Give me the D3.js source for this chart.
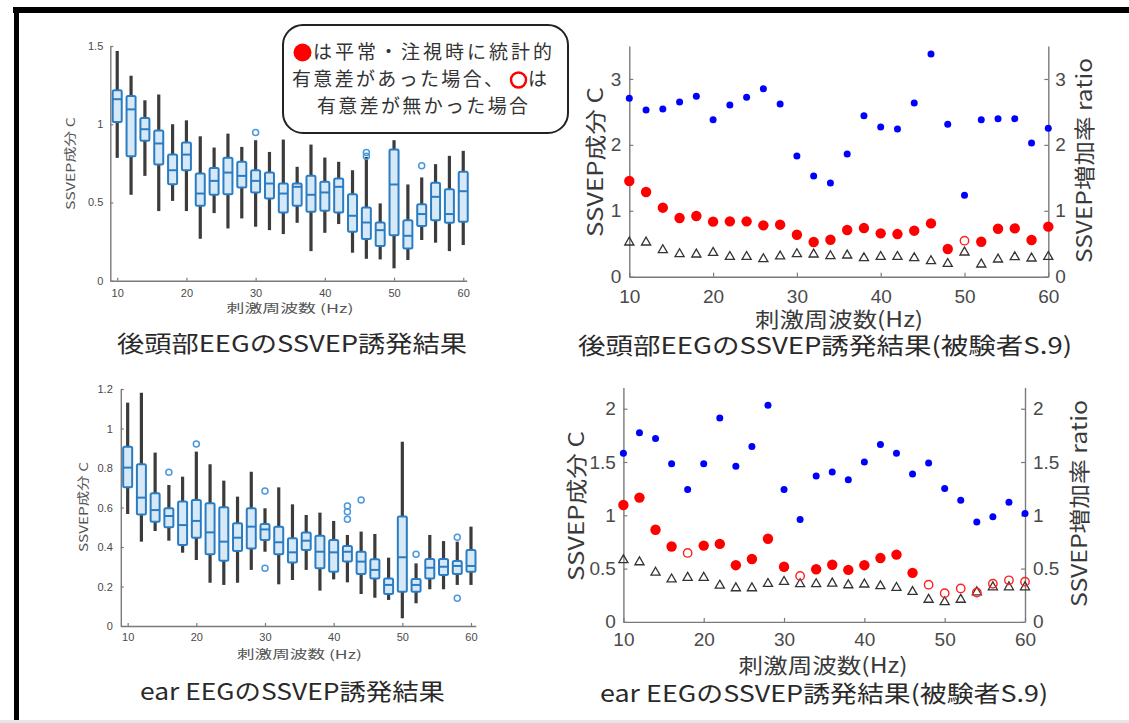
<!DOCTYPE html>
<html>
<head>
<meta charset="utf-8">
<script src="https://cdn.jsdelivr.net/npm/d3@7"></script>
<style>
  body { margin: 0; background: #fff; }
  svg { display: block; }
</style>
</head>
<body>
<svg id="fig" width="1129" height="723"></svg>
<script>
// Stimulation frequencies (Hz) and axis ticks
const freqs = d3.range(10, 61, 2);
const freqTicks = [10, 20, 30, 40, 50, 60];

// Occipital EEG, all subjects: box-plot statistics per frequency
const occLow    = [0.785,0.549,0.670,0.445,0.510,0.445,0.268,0.432,0.334,0.398,0.345,0.323,0.298,0.370,0.189,0.306,0.362,0.179,0.140,0.136,0.079,0.132,0.260,0.243,0.189,0.228];
const occQ1     = [1.015,0.796,0.894,0.743,0.617,0.706,0.479,0.549,0.553,0.596,0.564,0.526,0.436,0.479,0.440,0.447,0.436,0.313,0.266,0.221,0.291,0.206,0.349,0.387,0.370,0.377];
const occMedian = [1.160,1.095,0.968,0.877,0.706,0.806,0.557,0.638,0.691,0.670,0.638,0.621,0.557,0.600,0.549,0.564,0.600,0.415,0.372,0.323,0.615,0.287,0.426,0.536,0.426,0.572];
const occQ3     = [1.217,1.180,1.040,0.960,0.806,0.883,0.685,0.721,0.785,0.760,0.706,0.691,0.621,0.621,0.670,0.632,0.653,0.553,0.468,0.372,0.838,0.387,0.489,0.626,0.585,0.696];
const occHigh   = [1.468,1.310,1.153,1.190,1.000,1.025,0.923,0.851,0.940,0.855,0.898,0.823,0.902,0.728,0.870,0.787,0.760,0.706,0.791,0.494,0.898,0.615,0.660,0.745,0.798,0.830];
const occOutliers = [[30,0.947],[46,0.819],[46,0.796],[54,0.734]];
const occYTicks = [0, 0.5, 1, 1.5];

// Ear EEG, all subjects: box-plot statistics per frequency
const earLow    = [0.567,0.427,0.481,0.432,0.371,0.334,0.219,0.208,0.219,0.284,0.376,0.211,0.233,0.284,0.179,0.236,0.221,0.162,0.143,0.132,0.039,0.115,0.186,0.186,0.208,0.208];
const earQ1     = [0.702,0.565,0.528,0.500,0.410,0.447,0.363,0.331,0.380,0.393,0.435,0.363,0.321,0.385,0.292,0.275,0.326,0.263,0.241,0.162,0.174,0.174,0.241,0.258,0.263,0.275];
const earMedian = [0.802,0.650,0.587,0.557,0.511,0.532,0.474,0.427,0.447,0.503,0.489,0.424,0.373,0.432,0.376,0.373,0.376,0.326,0.284,0.208,0.348,0.208,0.295,0.300,0.304,0.304];
const earQ3     = [0.908,0.819,0.672,0.596,0.630,0.638,0.621,0.601,0.520,0.596,0.516,0.503,0.444,0.474,0.457,0.435,0.405,0.376,0.338,0.241,0.554,0.238,0.339,0.339,0.329,0.385];
const earHigh   = [1.131,1.181,0.878,0.714,0.756,0.883,0.819,0.736,0.655,0.781,0.596,0.702,0.616,0.562,0.574,0.532,0.461,0.478,0.466,0.346,0.933,0.317,0.461,0.430,0.427,0.503];
const earOutliers = [[16,0.778],[20,0.921],[30,0.684],[30,0.292],[42,0.608],[42,0.579],[42,0.540],[44,0.638],[52,0.363],[58,0.449],[58,0.140]];
const earYTicks = [0, 0.2, 0.4, 0.6, 0.8, 1, 1.2];

// Subject S.9, occipital EEG
const occS9Ratio  = [2.706,2.529,2.544,2.650,2.737,2.382,2.605,2.721,2.853,2.620,1.831,1.528,1.421,1.861,2.443,2.271,2.241,2.635,3.379,2.312,1.234,2.382,2.398,2.398,2.028,2.251];
const occS9Attend = [1.452,1.285,1.047,0.890,0.921,0.835,0.840,0.840,0.779,0.789,0.637,0.526,0.561,0.708,0.738,0.658,0.647,0.698,0.809,0.420,0.546,0.531,0.728,0.733,0.556,0.759];
const occS9Rest   = [0.521,0.521,0.405,0.344,0.339,0.364,0.303,0.303,0.268,0.309,0.344,0.339,0.314,0.324,0.283,0.303,0.303,0.283,0.238,0.197,0.369,0.187,0.263,0.298,0.278,0.303];
const occS9NonSig = [50];
const occS9Ticks  = [0, 1, 2, 3];

// Subject S.9, ear EEG
const earS9Ratio  = [1.582,1.775,1.721,1.483,1.242,1.483,1.914,1.461,1.645,2.032,1.242,0.960,1.369,1.407,1.334,1.499,1.664,1.582,1.388,1.490,1.252,1.141,0.938,0.986,1.122,1.017];
const earS9Attend = [1.097,1.166,0.865,0.707,0.647,0.716,0.732,0.532,0.590,0.780,0.517,0.431,0.494,0.536,0.488,0.532,0.599,0.631,0.460,0.349,0.269,0.314,0.276,0.358,0.390,0.377];
const earS9Rest   = [0.580,0.561,0.463,0.400,0.415,0.415,0.342,0.317,0.317,0.358,0.377,0.355,0.355,0.361,0.345,0.352,0.336,0.320,0.282,0.209,0.187,0.209,0.279,0.326,0.326,0.326];
const earS9NonSig = [18,32,48,50,52,54,56,58,60];
const earS9Ticks  = [0, 0.5, 1, 1.5, 2];

// Titles and labels
const xLabelSmall = "刺激周波数 (Hz)";
const xLabelLarge = "刺激周波数(Hz)";
const yLabel = "SSVEP成分 C";
const y2Label = "SSVEP増加率 ratio";
const titles = ["後頭部EEGのSSVEP誘発結果", "後頭部EEGのSSVEP誘発結果(被験者S.9)", "ear EEGのSSVEP誘発結果", "ear EEGのSSVEP誘発結果(被験者S.9)"];

const svg = d3.select("#fig");
const AXIS = "#7a7a7a";
const TICKTXT = "#4a4a4a";
const LATIN = "'Liberation Sans', Arial, 'Noto Sans CJK JP', sans-serif";
const CJK = "'Noto Sans CJK JP', 'Noto Sans', sans-serif";
const fmt = d3.format("~g");

// Outer frame
svg.append("rect").attr("x", 0).attr("y", 720).attr("width", 1129).attr("height", 3).attr("fill", "#e6e6e6");
svg.append("rect").attr("x", 13).attr("y", 7).attr("width", 1116).attr("height", 6).attr("fill", "#000");
svg.append("rect").attr("x", 14).attr("y", 7).attr("width", 5).attr("height", 713).attr("fill", "#000");

function styleAxis(g, size) {
  g.select(".domain").attr("stroke", AXIS).attr("stroke-width", 1.4);
  g.selectAll(".tick line").attr("stroke", AXIS).attr("stroke-width", 1.2);
  g.selectAll(".tick text").attr("fill", TICKTXT).attr("font-family", LATIN).attr("font-size", size);
  g.attr("font-family", null).attr("font-size", null);
}

function label(text, x, y, size, len, rotate, color) {
  const t = svg.append("text")
    .attr("transform", `translate(${x},${y})` + (rotate ? " rotate(-90)" : ""))
    .attr("text-anchor", "middle")
    .attr("font-family", CJK)
    .attr("font-size", size)
    .attr("fill", color || "#3a3a3a")
    .text(text);
  if (len) t.attr("textLength", len).attr("lengthAdjust", "spacingAndGlyphs");
  return t;
}

// Box-plot panel
function boxPanel(c) {
  const x = d3.scaleLinear().domain(c.xDomain).range(c.xRange);
  const y = d3.scaleLinear().domain(c.yDomain).range(c.yRange);
  const rows = freqs.map((f, i) => ({ f, lo: c.low[i], q1: c.q1[i], med: c.med[i], q3: c.q3[i], hi: c.high[i] }));
  const g = svg.append("g");
  const bw = 9;

  g.append("g").attr("transform", `translate(${c.xRange[0]},0)`)
    .call(d3.axisLeft(y).tickValues(c.yTicks).tickFormat(fmt).tickSizeInner(-3).tickSizeOuter(0).tickPadding(c.yPad))
    .call(a => styleAxis(a, c.tickSize));
  g.append("g").attr("transform", `translate(0,${c.yRange[0]})`)
    .call(d3.axisBottom(x).tickValues(freqTicks).tickFormat(fmt).tickSizeInner(-3).tickSizeOuter(0).tickPadding(c.xPad))
    .call(a => styleAxis(a, c.tickSize));

  g.selectAll(".whisker").data(rows).join("line")
    .attr("x1", d => x(d.f)).attr("x2", d => x(d.f))
    .attr("y1", d => y(d.lo)).attr("y2", d => y(d.hi))
    .attr("stroke", "#3b3b3b").attr("stroke-width", 3.2);
  g.selectAll(".box").data(rows).join("rect")
    .attr("x", d => x(d.f) - bw / 2).attr("width", bw)
    .attr("y", d => y(d.q3)).attr("height", d => y(d.q1) - y(d.q3))
    .attr("rx", 1.5)
    .attr("fill", "#d7e8f6").attr("stroke", "#2a7dc4").attr("stroke-width", 2);
  g.selectAll(".median").data(rows).join("line")
    .attr("x1", d => x(d.f) - bw / 2).attr("x2", d => x(d.f) + bw / 2)
    .attr("y1", d => y(d.med)).attr("y2", d => y(d.med))
    .attr("stroke", "#2a7dc4").attr("stroke-width", 2);
  g.selectAll(".outlier").data(c.outliers).join("circle")
    .attr("cx", d => x(d[0])).attr("cy", d => y(d[1])).attr("r", 3)
    .attr("fill", "none").attr("stroke", "#4a98dc").attr("stroke-width", 1.5);

  label(xLabelSmall, c.xLab[0], c.xLab[1], 12, c.xLab[2], false, "#555");
  label(yLabel, c.yLab[0], c.yLab[1], 12, c.yLab[2], true, "#555");
}

// Single-subject scatter panel with twin y axes
function scatterPanel(c) {
  const x = d3.scaleLinear().domain([10, 60]).range(c.xRange);
  const y = d3.scaleLinear().domain(c.yDomain).range(c.yRange);
  const g = svg.append("g");

  g.append("g").attr("transform", `translate(${c.xRange[0]},0)`)
    .call(d3.axisLeft(y).tickValues(c.yTicks).tickFormat(fmt).tickSizeInner(-4).tickSizeOuter(0).tickPadding(c.yPad))
    .call(a => styleAxis(a, 19));
  g.append("g").attr("transform", `translate(${c.xRange[1]},0)`)
    .call(d3.axisRight(y).tickValues(c.yTicks).tickFormat(fmt).tickSizeInner(-4).tickSizeOuter(0).tickPadding(c.y2Pad))
    .call(a => styleAxis(a, 19));
  g.append("g").attr("transform", `translate(0,${c.yRange[0]})`)
    .call(d3.axisBottom(x).tickValues(freqTicks).tickFormat(fmt).tickSizeInner(-4).tickSizeOuter(0).tickPadding(c.xPad))
    .call(a => styleAxis(a, 19));

  const rest = freqs.map((f, i) => ({ f, v: c.rest[i] }));
  const attend = freqs.map((f, i) => ({ f, v: c.attend[i], sig: !c.nonSig.includes(f) }));
  const ratio = freqs.map((f, i) => ({ f, v: c.ratio[i] }));

  g.selectAll(".rest").data(rest).join("path")
    .attr("transform", d => `translate(${x(d.f)},${y(d.v)})`)
    .attr("d", d3.symbol(d3.symbolTriangle, 36))
    .attr("fill", "none").attr("stroke", "#333").attr("stroke-width", 1.3);
  g.selectAll(".attend").data(attend).join("circle")
    .attr("cx", d => x(d.f)).attr("cy", d => y(d.v))
    .attr("r", d => d.sig ? 5.2 : 4.2)
    .attr("fill", d => d.sig ? "#ff0000" : "none")
    .attr("stroke", d => d.sig ? "none" : "#ff2020")
    .attr("stroke-width", 1.4);
  g.selectAll(".ratio").data(ratio).join("circle")
    .attr("cx", d => x(d.f)).attr("cy", d => y(d.v)).attr("r", 3.5)
    .attr("fill", "#0000ff");

  label(xLabelLarge, c.xLab[0], c.xLab[1], 21, c.xLab[2]);
  label(yLabel, c.yLab[0], c.yLab[1], 21, c.yLab[2], true);
  label(y2Label, c.y2Lab[0], c.y2Lab[1], 21, c.y2Lab[2], true);
}

boxPanel({
  xDomain: [9, 60.5], xRange: [110.3, 466.7], yDomain: [0, 1.5], yRange: [280.7, 46],
  low: occLow, q1: occQ1, med: occMedian, q3: occQ3, high: occHigh, outliers: occOutliers,
  yTicks: occYTicks, tickSize: 11, yPad: 7, xPad: 9,
  xLab: [290, 313, 127], yLab: [75, 163.5, 93]
});

boxPanel({
  xDomain: [9, 60.7], xRange: [120.8, 475.8], yDomain: [0, 1.2], yRange: [626, 389],
  low: earLow, q1: earQ1, med: earMedian, q3: earQ3, high: earHigh, outliers: earOutliers,
  yTicks: earYTicks, tickSize: 11, yPad: 8, xPad: 7,
  xLab: [299.5, 659, 125], yLab: [88, 507, 90]
});

scatterPanel({
  xRange: [629.3, 1048.3], yDomain: [0, 3.5], yRange: [276.7, 46], yTicks: occS9Ticks,
  ratio: occS9Ratio, attend: occS9Attend, rest: occS9Rest, nonSig: occS9NonSig,
  yPad: 8, y2Pad: 7, xPad: 13,
  xLab: [839, 327, 168], yLab: [603, 162, 150], y2Lab: [1092, 160.5, 205]
});

scatterPanel({
  xRange: [623.4, 1025], yDomain: [0, 2.2], yRange: [621.9, 387.4], yTicks: earS9Ticks,
  ratio: earS9Ratio, attend: earS9Attend, rest: earS9Rest, nonSig: earS9NonSig,
  yPad: 7.5, y2Pad: 8, xPad: 11,
  xLab: [823, 673, 169], yLab: [584, 506, 150], y2Lab: [1087, 503.5, 207]
});

// Panel titles
label(titles[0], 292, 352, 23, 350, false, "#2a2a2a");
label(titles[1], 825, 354, 23, 494, false, "#2a2a2a");
label(titles[2], 292.5, 700, 23, 305, false, "#2a2a2a");
label(titles[3], 824, 702, 23, 448, false, "#2a2a2a");

// Legend callout
const leg = svg.append("g");
leg.append("rect").attr("x", 283).attr("y", 25).attr("width", 285).attr("height", 108).attr("rx", 20)
  .attr("fill", "#fff").attr("stroke", "#222").attr("stroke-width", 2);
leg.append("circle").attr("cx", 302.5).attr("cy", 52.5).attr("r", 9).attr("fill", "#ff0000");
leg.append("circle").attr("cx", 518.5).attr("cy", 80).attr("r", 7.5).attr("fill", "none").attr("stroke", "#ff0000").attr("stroke-width", 2.5);
const legText = [
  ["は平常・注視時に統計的", 313, 59, 239],
  ["有意差があった場合、", 292, 86, 211],
  ["は", 528, 86, 24],
  ["有意差が無かった場合", 317, 113, 211]
];
leg.selectAll("text").data(legText).join("text")
  .attr("x", d => d[1]).attr("y", d => d[2])
  .attr("textLength", d => d[3]).attr("lengthAdjust", "spacing")
  .attr("font-family", CJK).attr("font-size", 19).attr("fill", "#333")
  .text(d => d[0]);
</script>
</body>
</html>
